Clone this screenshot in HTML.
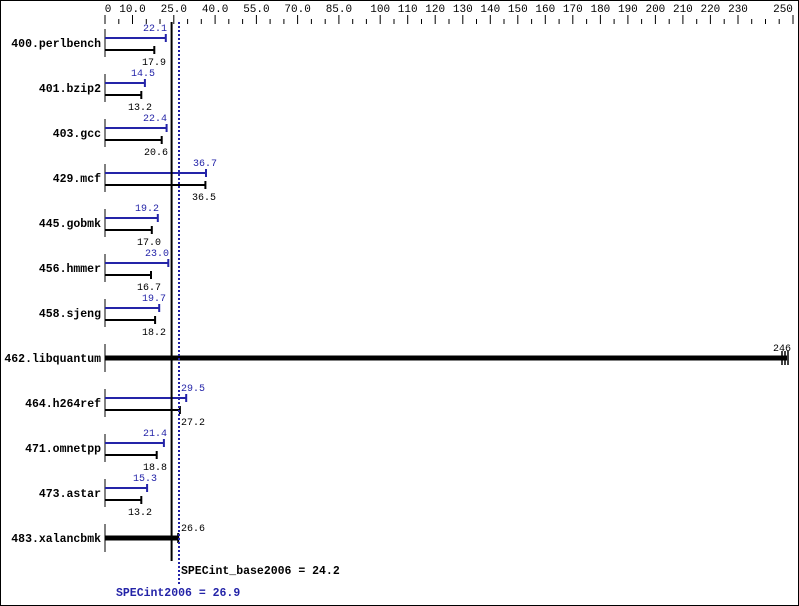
<!DOCTYPE html><html><head><style>body{margin:0;background:#fff}svg{display:block}text{font-family:"Liberation Mono","DejaVu Sans Mono",monospace}</style></head><body>
<svg width="799" height="606" xmlns="http://www.w3.org/2000/svg">
<rect x="0.5" y="0.5" width="798" height="605" fill="#fff" stroke="#000"/>
<g stroke="#000" stroke-width="1">
<path d="M105 15V24M118.8 19V24M132.5 15V24M146.3 19V24M160 19V24M173.8 15V24M187.6 19V24M201.3 19V24M215.1 15V24M228.8 19V24M242.6 19V24M256.4 15V24M270.1 19V24M283.9 19V24M297.6 15V24M311.4 19V24M325.2 19V24M338.9 15V24M352.7 19V24M366.4 19V24M380.2 15V24M394 19V24M407.7 15V24M421.5 19V24M435.2 15V24M449 19V24M462.8 15V24M476.5 19V24M490.3 15V24M504 19V24M517.8 15V24M531.6 19V24M545.3 15V24M559.1 19V24M572.8 15V24M586.6 19V24M600.4 15V24M614.1 19V24M627.9 15V24M641.6 19V24M655.4 15V24M669.2 19V24M682.9 15V24M696.7 19V24M710.4 15V24M724.2 19V24M738 15V24M751.7 19V24M765.5 19V24M779.2 19V24M793 15V24"/>
<path d="M105 29V57M105 74V102M105 119V147M105 164V192M105 209V237M105 254V282M105 299V327M105 344V372M105 389V417M105 434V462M105 479V507M105 524V552"/>
</g>
<g font-size="11" text-anchor="middle" fill="#000">
<text x="108" y="12">0</text><text x="132.5" y="12">10.0</text><text x="173.8" y="12">25.0</text><text x="215.1" y="12">40.0</text><text x="256.4" y="12">55.0</text><text x="297.6" y="12">70.0</text><text x="338.9" y="12">85.0</text><text x="380.2" y="12">100</text><text x="407.7" y="12">110</text><text x="435.2" y="12">120</text><text x="462.8" y="12">130</text><text x="490.3" y="12">140</text><text x="517.8" y="12">150</text><text x="545.3" y="12">160</text><text x="572.8" y="12">170</text><text x="600.4" y="12">180</text><text x="627.9" y="12">190</text><text x="655.4" y="12">200</text><text x="682.9" y="12">210</text><text x="710.4" y="12">220</text><text x="738" y="12">230</text><text x="783" y="12">250</text>
</g>
<g font-size="11.5" font-weight="bold" text-anchor="end" fill="#000">
<text x="101" y="47">400.perlbench</text><text x="101" y="92">401.bzip2</text><text x="101" y="137">403.gcc</text><text x="101" y="182">429.mcf</text><text x="101" y="227">445.gobmk</text><text x="101" y="272">456.hmmer</text><text x="101" y="317">458.sjeng</text><text x="101" y="362">462.libquantum</text><text x="101" y="407">464.h264ref</text><text x="101" y="452">471.omnetpp</text><text x="101" y="497">473.astar</text><text x="101" y="542">483.xalancbmk</text>
</g>
<g stroke="#2424a8" stroke-width="2" fill="none">
<path d="M105 38H165.8M165.8 34V42"/><path d="M105 83H144.9M144.9 79V87"/><path d="M105 128H166.6M166.6 124V132"/><path d="M105 173H206M206 169V177"/><path d="M105 218H157.8M157.8 214V222"/><path d="M105 263H168.3M168.3 259V267"/><path d="M105 308H159.2M159.2 304V312"/><path d="M105 398H186.2M186.2 394V402"/><path d="M105 443H163.9M163.9 439V447"/><path d="M105 488H147.1M147.1 484V492"/>
</g>
<g stroke="#000" stroke-width="2" fill="none">
<path d="M105 50H154.3M154.3 46V54"/><path d="M105 95H141.3M141.3 91V99"/><path d="M105 140H161.7M161.7 136V144"/><path d="M105 185H205.4M205.4 181V189"/><path d="M105 230H151.8M151.8 226V234"/><path d="M105 275H151M151 271V279"/><path d="M105 320H155.1M155.1 316V324"/><path d="M105 410H179.9M179.9 406V414"/><path d="M105 455H156.7M156.7 451V459"/><path d="M105 500H141.3M141.3 496V504"/>
<path d="M105 358H787" stroke-width="5"/><path d="M782 351V365M785 351V365M788 351V365" stroke-width="1.5"/>
<path d="M105 538H178.2" stroke-width="5"/><path d="M178.2 533V543"/>
<path d="M171.6 22V561"/>
</g>
<path d="M179 22V586" stroke="#2424a8" stroke-width="2" stroke-dasharray="2,2"/>
<g font-size="10" fill="#2424a8">
<text x="143" y="31">22.1</text><text x="131" y="76">14.5</text><text x="143" y="121">22.4</text><text x="193" y="166">36.7</text><text x="135" y="211">19.2</text><text x="145" y="256">23.0</text><text x="142" y="301">19.7</text><text x="181" y="391">29.5</text><text x="143" y="436">21.4</text><text x="133" y="481">15.3</text>
</g>
<g font-size="10" fill="#000">
<text x="142" y="65">17.9</text><text x="128" y="110">13.2</text><text x="144" y="155">20.6</text><text x="192" y="200">36.5</text><text x="137" y="245">17.0</text><text x="137" y="290">16.7</text><text x="142" y="335">18.2</text><text x="773" y="351">246</text><text x="181" y="425">27.2</text><text x="143" y="470">18.8</text><text x="128" y="515">13.2</text><text x="181" y="531">26.6</text>
</g>
<text x="181" y="574" font-size="11.5" font-weight="bold" fill="#000">SPECint_base2006 = 24.2</text>
<text x="116" y="596" font-size="11.5" font-weight="bold" fill="#2424a8">SPECint2006 = 26.9</text>
</svg></body></html>
